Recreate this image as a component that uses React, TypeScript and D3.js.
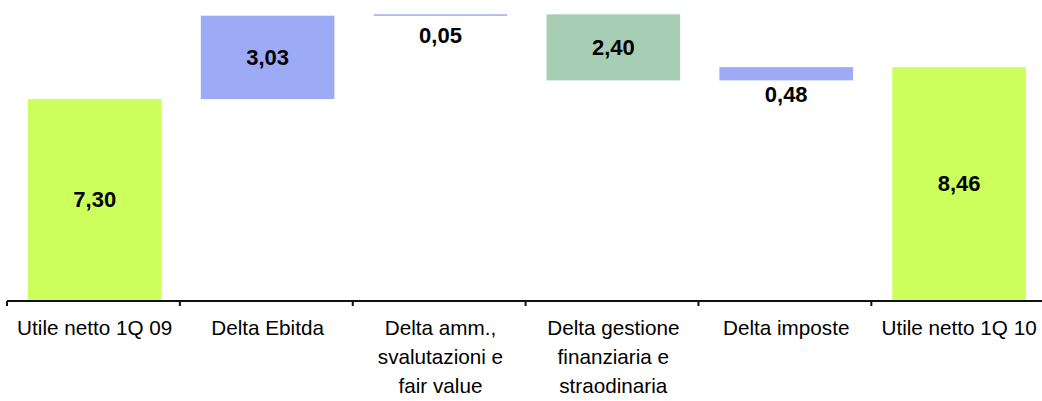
import React, { useRef, useEffect } from 'react';
import * as d3 from 'd3';

// waterfall: utile netto 1Q 09 -> 1Q 10
const categories = [
  'Utile netto 1Q 09',
  'Delta Ebitda',
  'Delta amm., svalutazioni e fair value',
  'Delta gestione finanziaria e straodinaria',
  'Delta imposte',
  'Utile netto 1Q 10',
];
const labelLines = [
  ['Utile netto 1Q 09'],
  ['Delta Ebitda'],
  ['Delta amm.,', 'svalutazioni e', 'fair value'],
  ['Delta gestione', 'finanziaria e', 'straodinaria'],
  ['Delta imposte'],
  ['Utile netto 1Q 10'],
];
const values = [7.3, 3.03, 0.05, -2.4, 0.48, 8.46];
const kinds = ['total', 'delta', 'delta', 'delta', 'delta', 'total'];

const colors = { total: '#CCFF5C', up: '#9DABF7', down: '#A7CEB4' };

const App = () => {
  const ref = useRef(null);

  useEffect(() => {
    if (!ref.current) return;
    const width = 1042;
    const height = 401;
    const baseline = 300;

    d3.select(ref.current).selectAll('*').remove();
    const svg = d3.select(ref.current)
      .attr('width', width)
      .attr('height', height);

    const x = d3.scaleBand()
      .domain(categories)
      .range([7, 7 + 173.3 * categories.length])
      .paddingInner(0.227)
      .paddingOuter(0.121);

    const y = d3.scaleLinear()
      .domain([0, 10.9])
      .range([baseline, 0]);

    // running totals for the floating bars
    let run = 0;
    const bars = categories.map((c, i) => {
      let start, end;
      if (kinds[i] === 'total') {
        start = 0;
        end = values[i];
        run = values[i];
      } else {
        start = run;
        end = run + values[i];
        run = end;
      }
      const color = kinds[i] === 'total' ? colors.total : values[i] >= 0 ? colors.up : colors.down;
      return { c, i, lo: Math.min(start, end), hi: Math.max(start, end), color, v: values[i] };
    });

    svg.append('g')
      .selectAll('rect')
      .data(bars)
      .join('rect')
      .attr('x', d => x(d.c))
      .attr('width', x.bandwidth())
      .attr('y', d => y(d.hi))
      .attr('height', d => Math.max(1.5, y(d.lo) - y(d.hi)))
      .attr('fill', d => d.color);

    const fmt = v => Math.abs(v).toFixed(2).replace('.', ',');

    svg.append('g')
      .selectAll('text')
      .data(bars)
      .join('text')
      .attr('x', d => x(d.c) + x.bandwidth() / 2)
      .attr('y', d => {
        const mid = (y(d.lo) + y(d.hi)) / 2;
        const small = y(d.lo) - y(d.hi) < 30;
        return small ? mid + 20 : mid;
      })
      .attr('dy', '0.36em')
      .attr('text-anchor', 'middle')
      .style('font-family', '"Liberation Sans", Arial, sans-serif')
      .style('font-weight', 'bold')
      .style('font-size', '22px')
      .attr('fill', '#000')
      .text(d => fmt(d.v));

    // axis line and ticks between the categories
    const axis = svg.append('g');
    const x0 = x.range()[0];
    const x1 = x.range()[1];
    axis.append('line')
      .attr('x1', x0).attr('x2', x1)
      .attr('y1', baseline + 1).attr('y2', baseline + 1)
      .attr('stroke', '#111')
      .attr('stroke-width', 2);
    const step = x.step();
    axis.selectAll('line.tick')
      .data(d3.range(categories.length + 1))
      .join('line')
      .attr('class', 'tick')
      .attr('x1', i => x0 + i * step)
      .attr('x2', i => x0 + i * step)
      .attr('y1', baseline + 1)
      .attr('y2', baseline + 6)
      .attr('stroke', '#111')
      .attr('stroke-width', 2);

    const lbl = svg.append('g')
      .selectAll('text')
      .data(categories)
      .join('text')
      .attr('x', c => x(c) + x.bandwidth() / 2)
      .attr('y', baseline + 35)
      .attr('text-anchor', 'middle')
      .style('font-family', '"Liberation Sans", Arial, sans-serif')
      .style('font-size', '20.7px')
      .attr('fill', '#000');
    lbl.each(function (c, i) {
      d3.select(this)
        .selectAll('tspan')
        .data(labelLines[i])
        .join('tspan')
        .attr('x', x(c) + x.bandwidth() / 2)
        .attr('dy', (d, j) => (j === 0 ? 0 : 29))
        .text(d => d);
    });
  }, []);

  return (
    <svg ref={ref} style={{ position: 'absolute', left: 0, top: 0, display: 'block' }} />
  );
};

export default App;
